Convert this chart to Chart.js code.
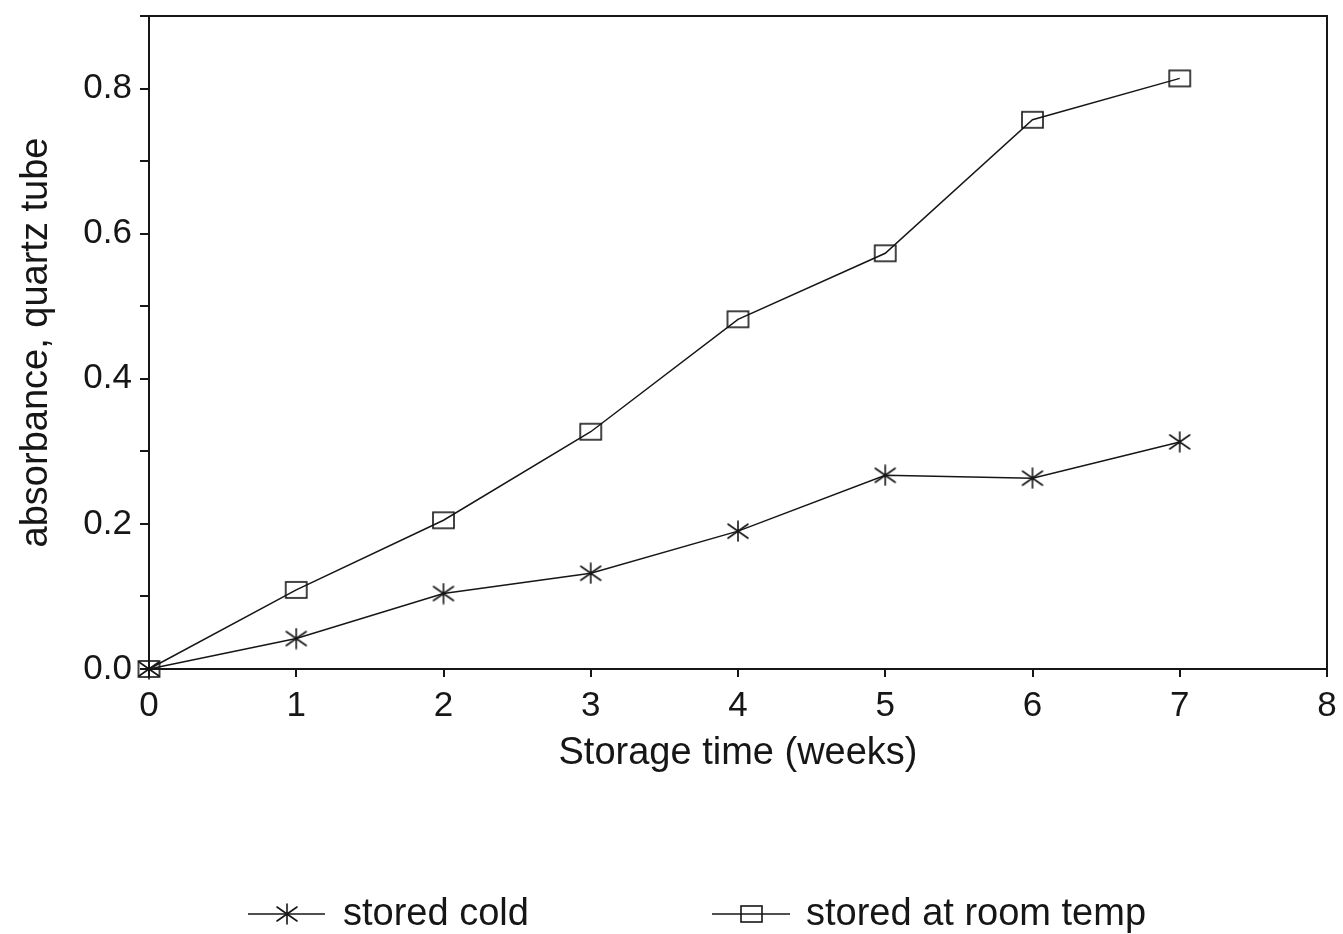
<!DOCTYPE html>
<html>
<head>
<meta charset="utf-8">
<script src="https://cdn.jsdelivr.net/npm/chart.js@4/dist/chart.umd.min.js"></script>
<style>
  html, body { margin: 0; padding: 0; background: #ffffff; }
  canvas { display: block; }
</style>
</head>
<body>
<canvas id="chart" width="1343" height="934"></canvas>
<script>
// Absorbance of samples over storage time
const weeks = [0, 1, 2, 3, 4, 5, 6, 7];
const storedCold = [0, 0.042, 0.104, 0.132, 0.190, 0.267, 0.263, 0.313];
const storedRoomTemp = [0, 0.109, 0.205, 0.327, 0.482, 0.573, 0.757, 0.814];
const seriesLabels = ['stored cold', 'stored at room temp'];
const xTickLabels = ['0', '1', '2', '3', '4', '5', '6', '7', '8'];
const yTickLabels = ['0.0', '0.2', '0.4', '0.6', '0.8'];
const xTitle = 'Storage time (weeks)';
const yTitle = 'absorbance, quartz tube';

const INK = '#161616';
const FONT = "'Liberation Sans', Arial, Helvetica, sans-serif";

// Marker glyphs: open rectangle and six-spoke asterisk
function boxMarker() {
  const c = document.createElement('canvas');
  c.width = 25; c.height = 20;
  const g = c.getContext('2d');
  g.strokeStyle = INK; g.lineWidth = 1.6;
  g.strokeRect(2, 2, 21, 16);
  return c;
}
function starMarker() {
  const c = document.createElement('canvas');
  c.width = 24; c.height = 22;
  const g = c.getContext('2d');
  g.strokeStyle = INK; g.lineWidth = 1.6; g.lineCap = 'round';
  g.beginPath();
  g.moveTo(12, 1); g.lineTo(12, 21);
  g.moveTo(2, 4); g.lineTo(22, 18);
  g.moveTo(2, 18); g.lineTo(22, 4);
  g.stroke();
  return c;
}
const markers = [starMarker(), boxMarker()];

const toPoints = ys => ys.map((y, i) => ({ x: weeks[i], y }));

// Closed frame around the plot area
const framePlugin = {
  id: 'frame',
  afterDraw(chart) {
    const { ctx, chartArea: a } = chart;
    ctx.save();
    ctx.strokeStyle = INK; ctx.lineWidth = 2;
    ctx.strokeRect(a.left, a.top, a.right - a.left, a.bottom - a.top);
    ctx.restore();
  }
};

// Legend row under the axis: line segment with marker, then label
const legendRow = {
  id: 'legendRow',
  afterDraw(chart) {
    const { ctx } = chart;
    const slots = [{ x0: 248, x1: 325, tx: 343 }, { x0: 712, x1: 790, tx: 806 }];
    const y = 914;
    ctx.save();
    chart.data.datasets.forEach((ds, i) => {
      const s = slots[i];
      ctx.strokeStyle = INK; ctx.lineWidth = 1.5;
      ctx.beginPath(); ctx.moveTo(s.x0, y); ctx.lineTo(s.x1, y); ctx.stroke();
      const m = markers[i];
      ctx.drawImage(m, Math.round((s.x0 + s.x1) / 2 - m.width / 2), Math.round(y - m.height / 2));
      ctx.fillStyle = INK;
      ctx.font = `38px ${FONT}`;
      ctx.textBaseline = 'middle';
      ctx.textAlign = 'left';
      ctx.fillText(ds.label, s.tx, y + 1);
    });
    ctx.restore();
  }
};

new Chart(document.getElementById('chart'), {
  type: 'line',
  data: {
    datasets: [
      {
        label: seriesLabels[0],
        data: toPoints(storedCold),
        borderColor: INK, borderWidth: 1.5,
        pointStyle: markers[0], pointRadius: 10,
        fill: false, tension: 0, clip: false
      },
      {
        label: seriesLabels[1],
        data: toPoints(storedRoomTemp),
        borderColor: INK, borderWidth: 1.5,
        pointStyle: markers[1], pointRadius: 10,
        fill: false, tension: 0, clip: false
      }
    ]
  },
  options: {
    responsive: false,
    animation: false,
    layout: { padding: { top: 16, right: 16, left: 0, bottom: 145 } },
    plugins: { legend: { display: false }, tooltip: { enabled: false } },
    scales: {
      x: {
        type: 'linear', min: 0, max: 8,
        border: { display: true, color: INK, width: 2 },
        grid: { drawOnChartArea: false, drawTicks: true, tickLength: 8, color: INK, lineWidth: 2 },
        ticks: {
          stepSize: 1, padding: 8, color: INK, font: { family: FONT, size: 35 },
          maxRotation: 0, autoSkip: false,
          callback: (v, i) => xTickLabels[i]
        },
        title: { display: true, text: xTitle, color: INK, font: { family: FONT, size: 38 }, padding: { top: 0, bottom: 13 } },
        afterFit(s) { s.height = 120; s.paddingLeft = 0; s.paddingRight = 0; }
      },
      y: {
        type: 'linear', min: 0, max: 0.9,
        border: { display: true, color: INK, width: 2 },
        grid: { drawOnChartArea: false, drawTicks: true, tickLength: 9, color: INK, lineWidth: 2 },
        ticks: {
          stepSize: 0.1, padding: 8, color: INK, font: { family: FONT, size: 35 },
          autoSkip: false,
          callback: (v, i) => (i % 2 === 0 && i / 2 < yTickLabels.length) ? yTickLabels[i / 2] : ''
        },
        title: { display: true, text: yTitle, color: INK, font: { family: FONT, size: 38 }, padding: { top: 14, bottom: 0 } },
        afterFit(s) { s.width = 149; s.paddingTop = 0; s.paddingBottom = 0; }
      }
    }
  },
  plugins: [framePlugin, legendRow]
});
</script>
</body>
</html>
